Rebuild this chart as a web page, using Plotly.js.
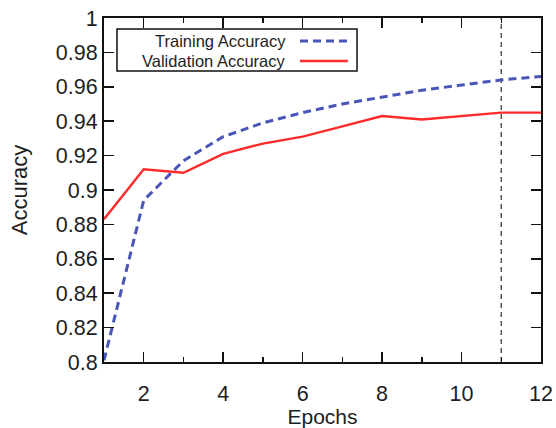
<!DOCTYPE html>
<html>
<head>
<meta charset="utf-8">
<script src="https://cdn.plot.ly/plotly-3.0.1.min.js"></script>
<style>html,body{margin:0;padding:0;background:#fff;}#chart{width:556px;height:428px;}</style>
</head>
<body>
<div id="chart"></div>
<script>
const epochs = [1, 2, 3, 4, 5, 6, 7, 8, 9, 10, 11, 12];
const trainingAccuracy = [0.801, 0.894, 0.917, 0.931, 0.939, 0.945, 0.950, 0.954, 0.958, 0.961, 0.964, 0.966];
const validationAccuracy = [0.883, 0.912, 0.910, 0.921, 0.927, 0.931, 0.937, 0.943, 0.941, 0.943, 0.945, 0.945];
const seriesNames = ["Training Accuracy", "Validation Accuracy"];
const markerEpoch = 11;

const font = "Liberation Sans, Arial, sans-serif";
const blue = "#4a55b8";
const red = "#ff2b2b";
const txt = "#1e1e1e";

const traces = [
  {x: epochs, y: trainingAccuracy, name: seriesNames[0], mode: "lines",
   line: {color: blue, width: 3, dash: "8px,5px"}},
  {x: epochs, y: validationAccuracy, name: seriesNames[1], mode: "lines",
   line: {color: red, width: 2.4}}
];

const layout = {
  width: 556, height: 428,
  margin: {l: 104, r: 15, t: 18, b: 66},
  paper_bgcolor: "#fff", plot_bgcolor: "#fff",
  showlegend: false,
  font: {family: font, color: txt},
  xaxis: {
    range: [1, 12], tick0: 2, dtick: 2, ticks: "inside", ticklen: 10, tickwidth: 1.5,
    tickcolor: "#111", showline: true, linecolor: "#111", linewidth: 2, mirror: "allticks",
    showgrid: false, zeroline: false, tickfont: {size: 21.5, family: font, color: txt},
    ticklabelstandoff: 11,
    minor: {dtick: 1, tick0: 1, ticks: "inside", ticklen: 5, tickwidth: 1.5, tickcolor: "#111", showgrid: false},
    title: {text: "Epochs", font: {size: 21, family: font, color: txt}, standoff: 6}
  },
  yaxis: {
    range: [0.8, 1], dtick: 0.02, tick0: 0.8, ticks: "inside", ticklen: 10, tickwidth: 1.5,
    tickcolor: "#111", showline: true, linecolor: "#111", linewidth: 2, mirror: "allticks",
    showgrid: false, zeroline: false, tickfont: {size: 21.5, family: font, color: txt},
    title: {text: "Accuracy", font: {size: 22, family: font, color: txt}, standoff: 22}
  },
  shapes: [
    {type: "line", xref: "x", yref: "paper", x0: markerEpoch, x1: markerEpoch, y0: 0, y1: 1,
     line: {color: "#555", width: 1.5, dash: "5px,4px"}, layer: "below"},
    {type: "rect", xref: "paper", yref: "paper", x0: 0.0297, x1: 0.579, y0: 0.846, y1: 0.968,
     line: {color: "#111", width: 1.5}, fillcolor: "#fff"},
    {type: "line", xref: "paper", yref: "paper", x0: 0.4485, x1: 0.558, y0: 0.933, y1: 0.933,
     line: {color: blue, width: 3, dash: "8px,5px"}},
    {type: "line", xref: "paper", yref: "paper", x0: 0.4485, x1: 0.558, y0: 0.875, y1: 0.875,
     line: {color: red, width: 2.4}}
  ],
  annotations: [
    {xref: "paper", yref: "paper", x: 0.421, y: 0.933, xanchor: "right", yanchor: "middle",
     text: seriesNames[0], showarrow: false, font: {size: 16.5, family: font, color: txt}},
    {xref: "paper", yref: "paper", x: 0.421, y: 0.875, xanchor: "right", yanchor: "middle",
     text: seriesNames[1], showarrow: false, font: {size: 16.5, family: font, color: txt}}
  ]
};

Plotly.newPlot("chart", traces, layout, {staticPlot: true, displayModeBar: false});
</script>
</body>
</html>
